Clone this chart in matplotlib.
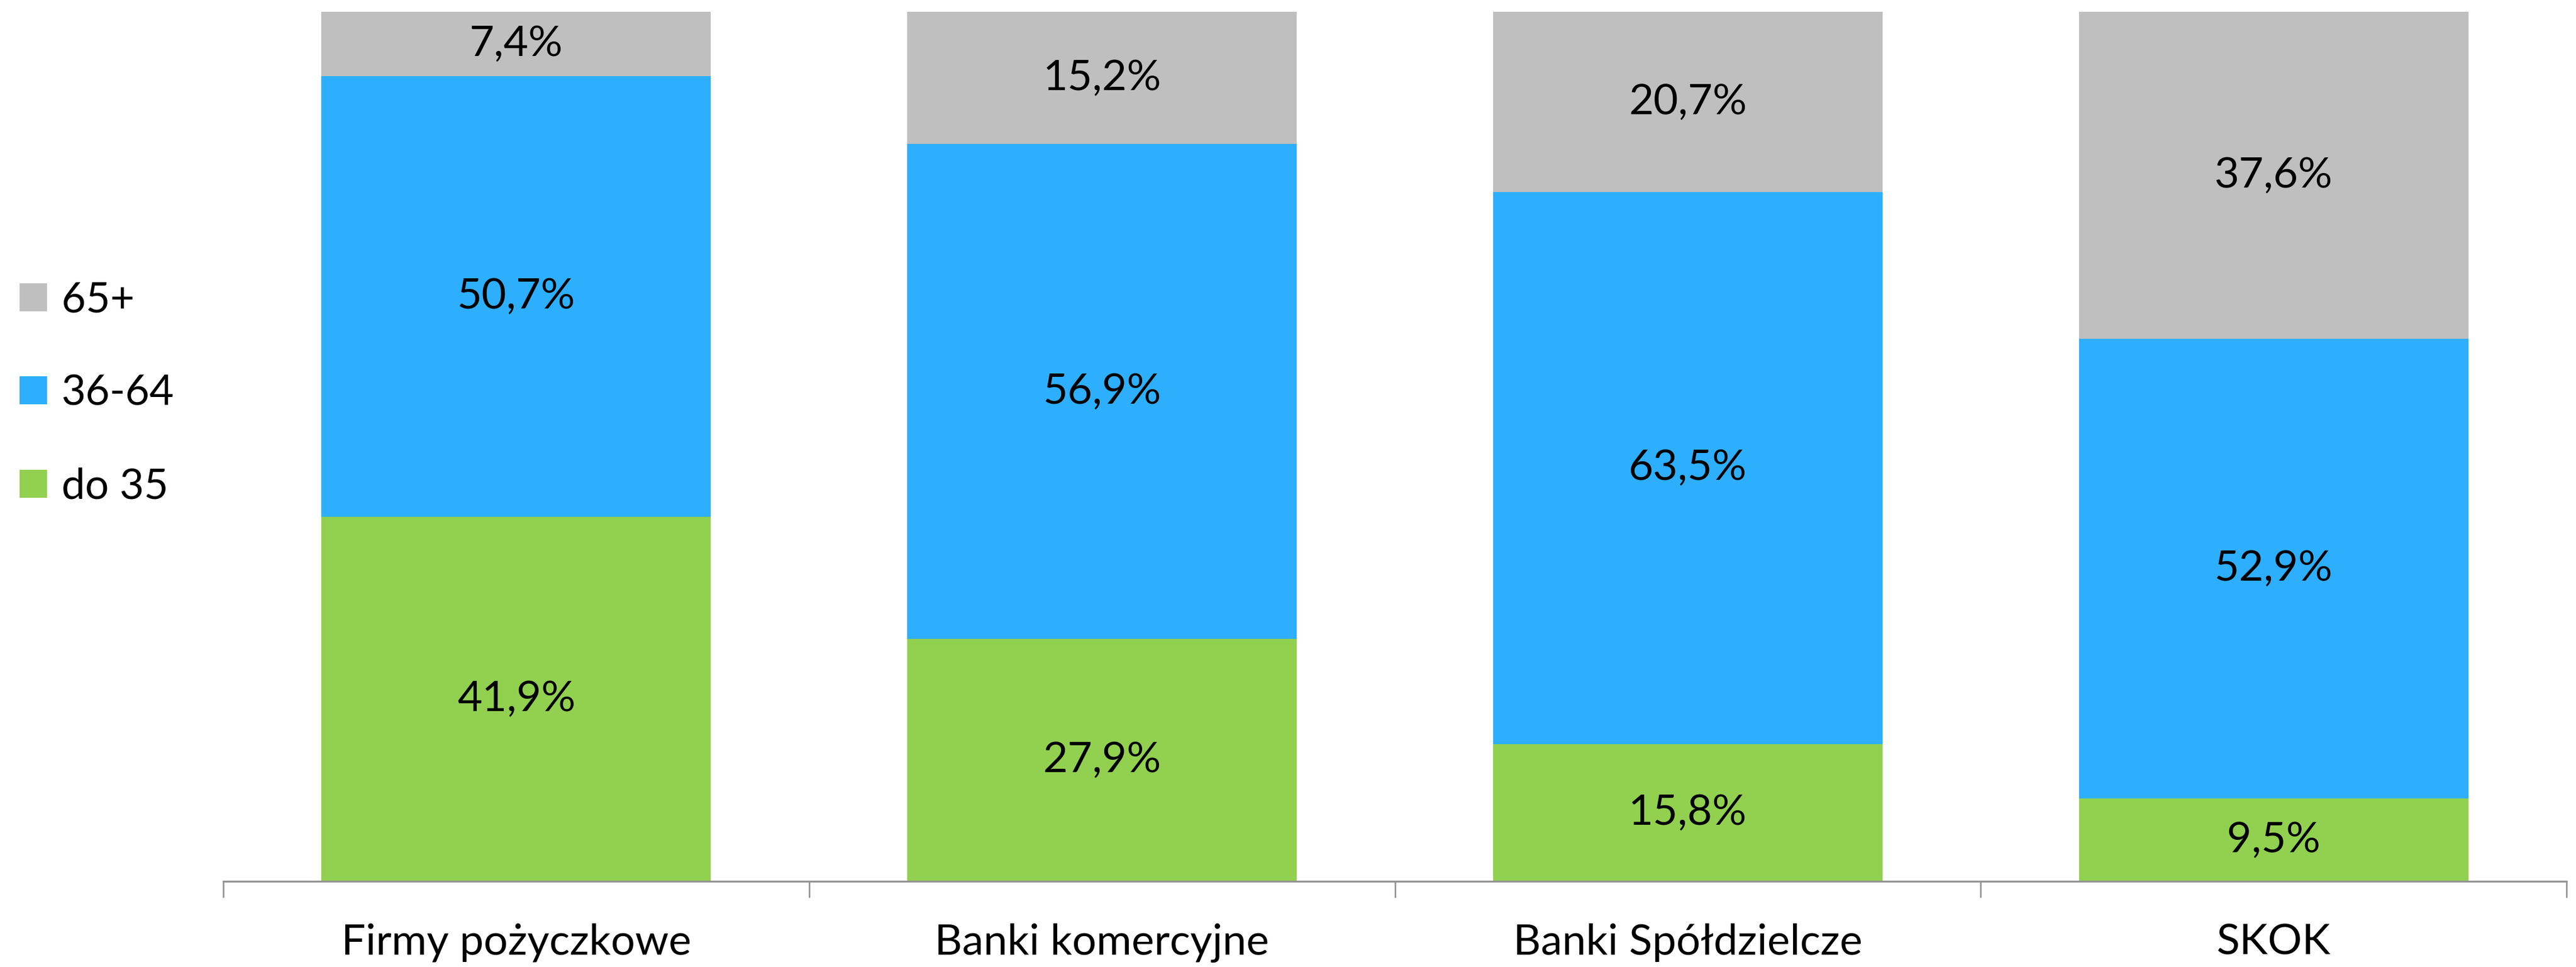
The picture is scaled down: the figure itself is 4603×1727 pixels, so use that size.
import matplotlib
matplotlib.use("Agg")
import matplotlib.pyplot as plt
import numpy as np

plt.rcParams['font.family'] = ['Lato', 'DejaVu Sans']

# data
categories = ["Firmy pożyczkowe", "Banki komercyjne", "Banki Spółdzielcze", "SKOK"]
do_35 = [41.9, 27.9, 15.8, 9.5]
mid_36_64 = [50.7, 56.9, 63.5, 52.9]
over_65 = [7.4, 15.2, 20.7, 37.6]
series_names = ["do 35", "36-64", "65+"]
colors = ["#92D050", "#2DAFFE", "#BFBFBF"]

fig = plt.figure(figsize=(46.03, 17.27), dpi=100)
ax = fig.add_axes([0.0867, 0.0886, 0.9096, 0.8992])

x = np.arange(len(categories))
bottom = np.zeros(len(categories))
handles = []
for vals, name, col in zip([do_35, mid_36_64, over_65], series_names, colors):
    bars = ax.bar(x, vals, width=0.665, bottom=bottom, color=col, label=name)
    handles.append(bars)
    for xi, b, v in zip(x, bottom, vals):
        ax.text(xi, b + v / 2, f"{v:.1f}%".replace(".", ","),
                ha="center", va="center", fontsize=55, color="black")
    bottom += np.array(vals)

ax.set_xlim(-0.5, len(categories) - 0.5)
ax.set_ylim(0, 100)
ax.set_yticks([])
for s in ["top", "right", "left"]:
    ax.spines[s].set_visible(False)
ax.spines["bottom"].set_color("#959595")
ax.spines["bottom"].set_linewidth(2.5)

ax.set_xticks(x)
ax.set_xticklabels(categories, fontsize=55)
ax.tick_params(axis="x", which="major", length=0, pad=54)
ax.set_xticks(np.arange(len(categories) + 1) - 0.5, minor=True)
ax.tick_params(axis="x", which="minor", length=21, width=2, color="#959595")

fig.legend(handles[::-1], series_names[::-1], loc="center left",
           bbox_to_anchor=(0.0076, 0.5935), frameon=False, fontsize=54,
           borderpad=0, borderaxespad=0, handlelength=0.65, handleheight=0.65,
           handletextpad=0.35, labelspacing=1.3)

fig.savefig("out.png", dpi=100)
